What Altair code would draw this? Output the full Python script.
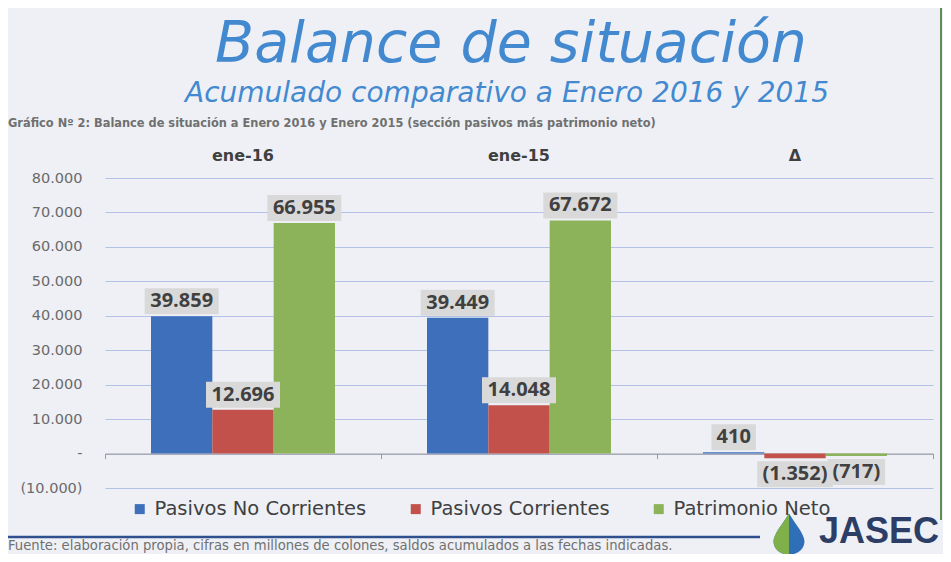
import altair as alt
import pandas as pd

categories = ["ene-16", "ene-15", "Δ"]
series = ["Pasivos No Corrientes", "Pasivos Corrientes", "Patrimonio Neto"]
pasivos_no_corrientes = [39859, 39449, 410]
pasivos_corrientes = [12696, 14048, -1352]
patrimonio_neto = [66955, 67672, -717]
colors = ["#3d6fbb", "#c2504b", "#8db35a"]
y_ticks = [-10000, 0, 10000, 20000, 30000, 40000, 50000, 60000, 70000, 80000]

title_text = "Balance de situación"
subtitle_text = "Acumulado comparativo a Enero 2016 y 2015"
caption_text = "Gráfico Nº 2: Balance de situación a Enero 2016 y Enero 2015 (sección pasivos más patrimonio neto)"
source_text = "Fuente: elaboración propia, cifras en millones de colones, saldos acumulados a las fechas indicadas."

rows = []
for i, c in enumerate(categories):
    for s, vals in zip(series, [pasivos_no_corrientes, pasivos_corrientes, patrimonio_neto]):
        rows.append({"category": c, "series": s, "value": vals[i]})
df = pd.DataFrame(rows)
cat_df = pd.DataFrame({"category": categories})
one = pd.DataFrame({"k": [0]})

BG = "#eef0f5"
W, H = 828, 310
zero_off = -H * 10000 / 90000

label_expr = ("datum.value < 0 ? '(' + replace(format(-datum.value, ','), ',', '.') + ')' "
              ": replace(format(datum.value, ','), ',', '.')")
ylab_expr = ("datum.value == 0 ? '-' : (datum.value < 0 ? '(' + replace(format(-datum.value, ','), ',', '.') + ')' "
             ": replace(format(datum.value, ','), ',', '.'))")

x_enc = alt.X("category:N", sort=categories,
              scale=alt.Scale(paddingInner=0, paddingOuter=0),
              axis=alt.Axis(orient="bottom", offset=zero_off, labels=False, title=None,
                            tickBand="extent", tickSize=5, domainColor="#9a9a9a",
                            tickColor="#9a9a9a", grid=False))
xo_enc = alt.XOffset("series:N", sort=series, scale=alt.Scale(paddingOuter=0.75, paddingInner=0))
y_enc = alt.Y("value:Q", scale=alt.Scale(domain=[-10000, 80000], nice=False, zero=False),
              axis=alt.Axis(values=y_ticks, labelExpr=ylab_expr, gridColor="#b3c1e8",
                            domain=False, ticks=False, labelPadding=23, title=None,
                            labelOverlap=False, labelBound=False, labelFlush=False,
                            labelFont="DejaVu Sans", labelFontSize=14.5, labelColor="#6a6a6a"))

base = alt.Chart(df).transform_calculate(label=label_expr).transform_calculate(
    ndig="length(replace(datum.label, regexp('[^0-9]', 'g'), ''))").transform_calculate(
    halfw="(datum.ndig * 11.5 + (length(datum.label) - datum.ndig) * 6.5) / 2 + 5")

bars = base.mark_bar().encode(
    x=x_enc, xOffset=xo_enc, y=y_enc,
    color=alt.Color("series:N", sort=series,
                    scale=alt.Scale(domain=series, range=colors),
                    legend=alt.Legend(orient="none", legendX=25, legendY=321, direction="horizontal",
                                      title=None, symbolType="square", symbolSize=100,
                                      labelFont="DejaVu Sans", labelFontSize=19.5, labelLimit=400,
                                      labelColor="#404040", columnPadding=39, labelOffset=5,
                                      symbolStrokeWidth=0)))

box_pos = base.transform_filter("datum.value >= 0").mark_bar(
    color="#d9d9d9", width=alt.expr("2 * datum.halfw"), yOffset=-28, y2Offset=-2).encode(
    x=x_enc, xOffset=xo_enc, y=y_enc, y2="value:Q")
box_neg = base.transform_filter("datum.value < 0").mark_bar(
    color="#d9d9d9", width=alt.expr("2 * datum.halfw"), yOffset=3, y2Offset=29).encode(
    x=x_enc, xOffset=xo_enc, y=y_enc, y2="value:Q")

txt_style = dict(font="Open Sans", fontWeight="bold", fontSize=20, color="#404040")
txt_pos = base.transform_filter("datum.value >= 0").mark_text(dy=-15, **txt_style).encode(
    x=x_enc, xOffset=xo_enc, y=y_enc, text="label:N")
txt_neg = base.transform_filter("datum.value < 0").mark_text(dy=16, **txt_style).encode(
    x=x_enc, xOffset=xo_enc, y=y_enc, text="label:N")

headers = alt.Chart(cat_df).mark_text(font="DejaVu Sans", fontWeight="bold", fontSize=16,
                                      color="#404040").encode(
    x=x_enc, y=alt.value(-22), text="category:N")

title = alt.Chart(one).mark_text(
    text=title_text, font="DejaVu Sans", fontStyle="italic", fontSize=57, color="#4389d0",
    baseline="alphabetic").encode(x=alt.value(406), y=alt.value(-116.5))
subtitle = alt.Chart(one).mark_text(
    text=subtitle_text, font="DejaVu Sans", fontStyle="italic", fontSize=28, color="#4389d0",
    baseline="alphabetic").encode(x=alt.value(402), y=alt.value(-76.5))

caption = alt.Chart(one).mark_text(
    text=caption_text, font="DejaVu Sans", fontWeight="bold", fontSize=11.4, color="#707070",
    align="left").encode(x=alt.value(-97), y=alt.value(-54))

footnote = alt.Chart(one).mark_text(
    text=source_text, font="DejaVu Sans", fontSize=13.2, color="#707070", align="left").encode(
    x=alt.value(-97), y=alt.value(368))

blue_line = alt.Chart(one).mark_rule(color="#2f4f8f", strokeWidth=2.5).encode(
    x=alt.value(-97), x2=alt.value(655), y=alt.value(359))
green_line = alt.Chart(one).mark_rule(color="#5d8f55", strokeWidth=2).encode(
    x=alt.value(836), y=alt.value(-178), y2=alt.value(342))

drop_path = ("M0,-1 C0.3,-0.5 0.75,0 0.75,0.35 C0.75,0.75 0.4,1 0,1 "
             "C-0.4,1 -0.75,0.75 -0.75,0.35 C-0.75,0 -0.3,-0.5 0,-1 Z")
half_path = "M0,-1 L0,1 C-0.4,1 -0.75,0.75 -0.75,0.35 C-0.75,0 -0.3,-0.5 0,-1 Z"
drop = alt.Chart(one).mark_point(
    shape=drop_path, size=1700, filled=True, color="#2f6fb8", opacity=1).encode(
    x=alt.value(684), y=alt.value(356))
drop2 = alt.Chart(one).mark_point(
    shape=half_path, size=1700, filled=True, color="#7fb04a", opacity=1).encode(
    x=alt.value(684), y=alt.value(356))
jasec = alt.Chart(one).mark_text(
    text="JASEC", font="Liberation Sans", fontWeight="bold", fontSize=36, color="#2c3e66",
    align="left").encode(x=alt.value(714), y=alt.value(354))

chart = alt.layer(
    bars, box_pos, box_neg, txt_pos, txt_neg, headers, title, subtitle, caption, footnote,
    blue_line, green_line, drop, drop2, jasec
).properties(
    width=W, height=H,
    background=BG,
    padding={"left": 97, "top": 170, "right": 10, "bottom": 66},
    autosize=alt.AutoSizeParams(type="none"),
).configure_view(stroke=None)

chart.save("out.html", embed_options={"renderer": "svg", "actions": False})
